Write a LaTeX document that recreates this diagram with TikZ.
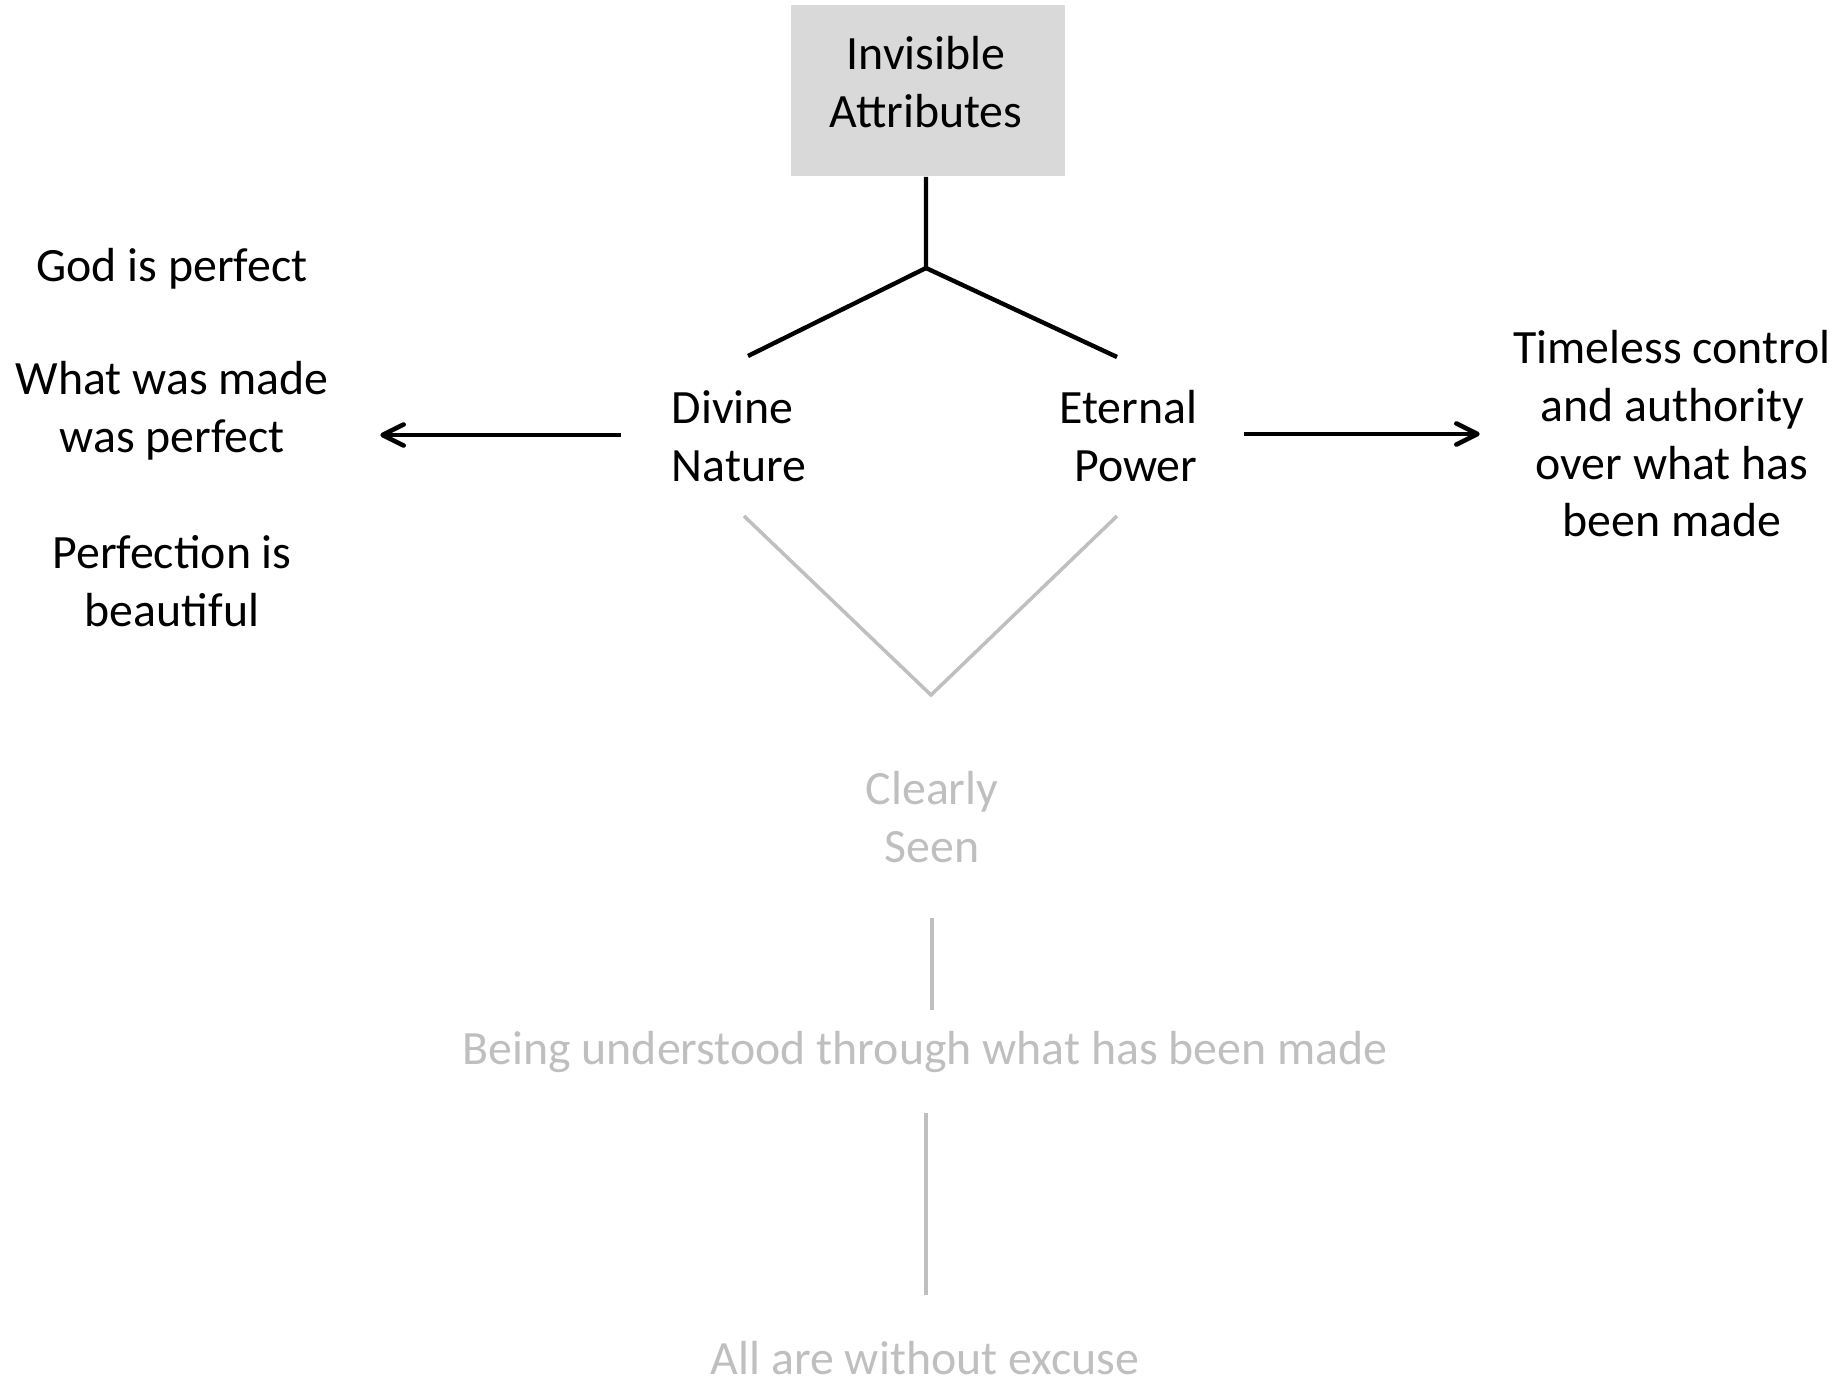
\documentclass[tikz,border=0pt]{standalone}
\usepackage{fontspec}
\setmainfont{Carlito}
\usetikzlibrary{arrows.meta}
\definecolor{boxgray}{HTML}{D9D9D9}
\definecolor{fadegray}{HTML}{BFBFBF}
\tikzset{
  word/.style={inner sep=0pt, align=center, font=\fontsize{13.6}{16.4}\selectfont},
  faded/.style={word, text=fadegray},
  stem/.style={line width=1.25pt, black},
  faint/.style={line width=1pt, fadegray},
  pointer/.style={line width=1.3pt, -{Straight Barb[length=6pt, width=6pt, round]}},
}
\begin{document}
\begin{tikzpicture}[x=0.01cm, y=-0.01cm]
  \useasboundingbox (0,0) rectangle (1848,1384);
  % Top box and the fork below it
  \node [fill=boxgray, minimum width=2.74cm, minimum height=1.71cm, inner sep=0pt]
    (attrs) at (928,90.5) {};
  \node [word] (attrstext) at (926,82) {Invisible\\Attributes};
  \coordinate (fork) at (926,268);
  \coordinate (forkL) at (748,356);
  \coordinate (forkR) at (1117,357);
  \draw [stem] (attrs.south -| fork) -- (fork) -- (forkL);
  \draw [stem] (fork) -- (forkR);

  % The two attributes
  \node [word, align=left, anchor=west] (divine) at (671,436) {Divine\\Nature};
  \node [word, align=right, anchor=east] (eternal) at (1198,436) {Eternal\\Power};

  % Left column
  \node [word] (perfect) at (172,269) {God is perfect};
  \node [word] (made) at (172,411) {What was made\\was perfect};
  \node [word] (beauty) at (172,581) {Perfection is\\beautiful};

  % Right column
  \node [word] (timeless) at (1672,434) {Timeless control\\and authority\\over what has\\been made};

  % Arrows out
  \draw [pointer] ([xshift=-0.5cm]divine.west |- 0,435) -- ([xshift=0.51cm]made.east |- 0,435);
  \draw [pointer] ([xshift=0.46cm]eternal.east |- 0,434) -- ([xshift=-0.33cm]timeless.west |- 0,434);

  % The faded chain below
  \coordinate (vL) at (744,516);
  \coordinate (vR) at (1117,516);
  \coordinate (vtip) at (931,695);
  \draw [faint] (vL) -- (vtip) -- (vR);
  \node [faded] (seen) at (932,817) {Clearly\\Seen};
  \node [faded] (understood) at (925,1052) {Being understood through what has been made};
  \node [faded] (excuse) at (925,1358) {All are without excuse};
  \draw [faint] (932,918) -- (932,1010);
  \draw [faint] (926,1113) -- (926,1295);
\end{tikzpicture}
\end{document}
